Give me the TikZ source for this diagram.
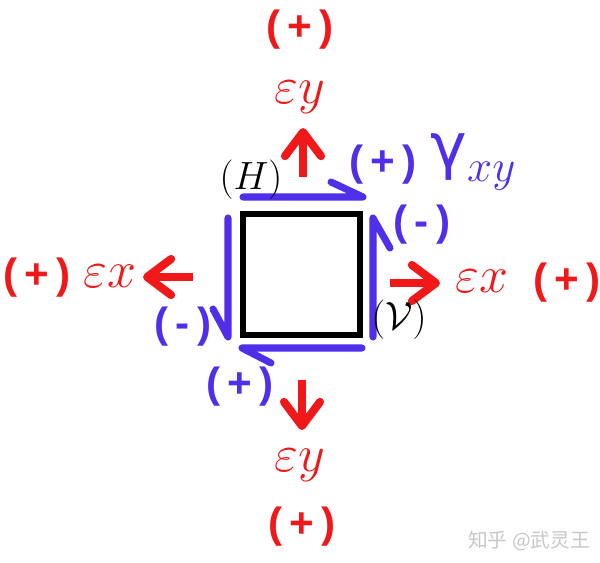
\RequirePackage{fix-cm}
\documentclass[tikz,border=0pt]{standalone}
\usepackage{fontspec}
\usepackage{amsmath}
\usetikzlibrary{arrows.meta}

\newfontfamily\signfont{Liberation Sans}
\newfontfamily\greekfont{DejaVu Sans}
\newfontfamily\cjkfont{Noto Sans CJK SC}
\definecolor{strainred}{RGB}{240,24,24}
\definecolor{shearblue}{RGB}{80,46,234}
\newcommand{\signtext}[1]{{\signfont\bfseries(\,#1\,)}}

\begin{document}
\begin{tikzpicture}[x=0.025cm, y=-0.025cm,
    redarrow/.style={strainred, line width=5.8pt,
      -{Straight Barb[length=0.6cm,width=0.9cm,round]}},
    shearline/.style={shearblue, line width=5pt, line cap=round, line join=round},
    redsign/.style={strainred, inner sep=0pt, font=\fontsize{30}{36}\selectfont},
    bluesign/.style={shearblue, inner sep=0pt, font=\fontsize{30}{36}\selectfont},
    strainlabel/.style={strainred, inner sep=0pt, font=\fontsize{37}{42}\selectfont},
    sidelabel/.style={inner sep=0pt, font=\fontsize{28}{34}\selectfont}]

      \useasboundingbox (0,0) rectangle (600,562) ;

      % element
      \draw [line width=3.6pt] (243,214) rectangle (360,335) ;

      % shear on the four faces (line, then its barb)
      \draw [shearline] (243,197) -- (363,197) -- (331,182) ;
      \draw [shearline] (228,218) -- (228,337) -- (213,309) ;
      \draw [shearline] (362,348) -- (242,348) -- (271,363) ;
      \draw [shearline] (373,337) -- (373,218) -- (390,248) ;

      % normal strain arrows
      \coordinate (upS) at (303,177) ;
      \coordinate (upT) at (303,128) ;
      \coordinate (downS) at (302,380) ;
      \coordinate (downT) at (302,430) ;
      \coordinate (leftS) at (193,277) ;
      \coordinate (leftT) at (143,277) ;
      \coordinate (rightS) at (390,283) ;
      \coordinate (rightT) at (440,283) ;

      \draw [redarrow] (upS) -- (upT) ;
      \draw [redarrow] (downS) -- (downT) ;
      \draw [redarrow] (leftS) -- (leftT) ;
      \draw [redarrow] (rightS) -- (rightT) ;

      % strain labels
      \node [redsign] (signTop) at (300,30) {\signtext{+}} ;
      \node [strainlabel] (epsTop) at (300,97) {$\varepsilon y$} ;
      \node [redsign] (signBottom) at (302,527) {\signtext{+}} ;
      \node [strainlabel] (epsBottom) at (300,465) {$\varepsilon y$} ;
      \node [redsign] (signLeft) at (37,278) {\signtext{+}} ;
      \node [strainlabel] (epsLeft) at (110,276) {$\varepsilon x$} ;
      \node [redsign] (signRight) at (567,283) {\signtext{+}} ;
      \node [strainlabel] (epsRight) at (482,281) {$\varepsilon x$} ;

      % shear labels
      \node [bluesign] (shearTop) at (383,165) {\signtext{+}} ;
      \node [bluesign] (shearRight) at (422,225) {\signtext{-}} ;
      \node [bluesign] (shearLeft) at (183,327) {\signtext{-}} ;
      \node [bluesign] (shearBottom) at (240,387) {\signtext{+}} ;
      \node [shearblue, inner sep=0pt, font=\fontsize{32}{38}\selectfont] (gammaXY) at (473,162)
        {{\greekfont\fontsize{44}{50}\selectfont γ}\raisebox{-0.3em}{$xy$}} ;

      % face names
      \node [sidelabel] (faceH) at (251,180) {$(H)$} ;
      \node [sidelabel] (faceV) at (399,320) {$(\mathcal{V})$} ;

      \node [black!22, inner sep=0pt, font=\cjkfont\fontsize{14}{16}\selectfont] (mark) at (529,541) {知乎 @武灵王} ;
    \end{tikzpicture}
\end{document}
